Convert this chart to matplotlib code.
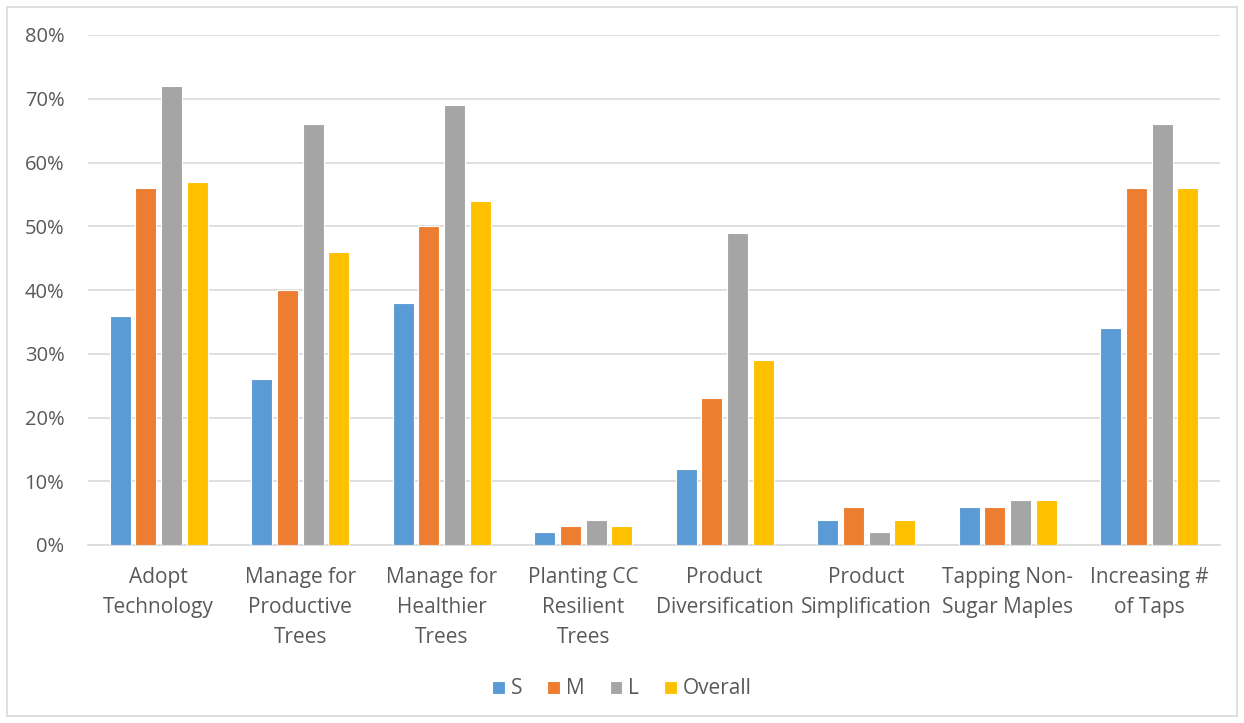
import matplotlib.pyplot as plt
import numpy as np
from matplotlib.patches import Rectangle

categories = ["Adopt\nTechnology", "Manage for\nProductive\nTrees", "Manage for\nHealthier\nTrees",
              "Planting CC\nResilient\nTrees", "Product\nDiversification", "Product\nSimplification",
              "Tapping Non-\nSugar Maples", "Increasing #\nof Taps"]
S = [36, 26, 38, 2, 12, 4, 6, 34]
M = [56, 40, 50, 3, 23, 6, 6, 56]
L = [72, 66, 69, 4, 49, 2, 7, 66]
Overall = [57, 46, 54, 3, 29, 4, 7, 56]

series = [("S", S, "#5B9BD5"), ("M", M, "#ED7D31"), ("L", L, "#A5A5A5"), ("Overall", Overall, "#FFC000")]

plt.rcParams['font.family'] = ['Open Sans', 'DejaVu Sans']
txt = "#595959"

fig = plt.figure(figsize=(12.44, 7.23), dpi=100)
ax = fig.add_axes([88/1244, 1-545/723, (1220-88)/1244, (545-35)/723])

x = np.arange(len(categories))
pitch = 0.182
w = 0.15
for i, (name, vals, col) in enumerate(series):
    ax.bar(x + (i - 1.5)*pitch, vals, width=w, color=col, edgecolor='white', linewidth=0.8, label=name, zorder=3)

ax.set_xlim(-0.5, len(categories) - 0.5)
ax.set_ylim(0, 80)
ax.set_yticks(range(0, 81, 10))
ax.set_yticklabels([f"{v}%" for v in range(0, 81, 10)], fontsize=14.5)
ax.set_xticks(x)
ax.set_xticklabels(categories, linespacing=1.55, fontsize=15)
ax.grid(axis='y', color='#D9D9D9', linewidth=1.2, zorder=0)
for s in ['top', 'right', 'left']:
    ax.spines[s].set_visible(False)
ax.spines['bottom'].set_color('#D9D9D9')
ax.spines['bottom'].set_linewidth(1.2)
ax.tick_params(axis='both', length=0, colors=txt)
ax.tick_params(axis='x', pad=16)
ax.tick_params(axis='y', pad=17)

fig.legend(loc='center', bbox_to_anchor=(0.5, 1-689/723), ncol=4, frameon=False,
           fontsize=15, labelcolor=txt, handlelength=0.6, handleheight=0.6,
           handletextpad=0.3, columnspacing=1.2)

fig.patches.append(Rectangle((7/1244, 7/723), 1230/1244, 709/723, transform=fig.transFigure,
                             fill=False, edgecolor='#D9D9D9', linewidth=1.2))

fig.savefig("out.png", dpi=100)
